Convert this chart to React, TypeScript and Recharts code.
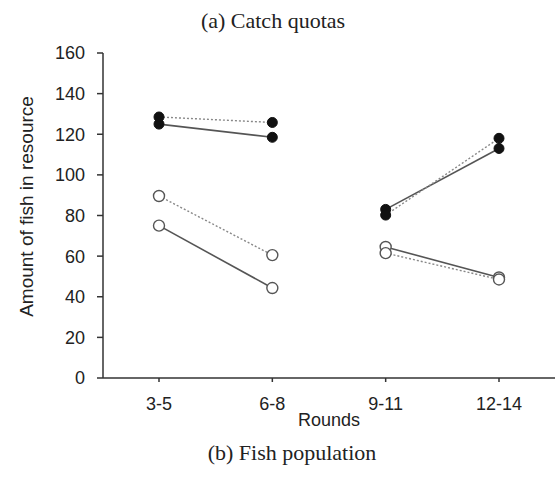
import { LineChart, Line, XAxis, YAxis } from "recharts";

// Rounds on the x axis; the chart is split into two pairs (3-5 → 6-8, 9-11 → 12-14)
const rounds = ["3-5", "6-8", "9-11", "12-14"];
const yTicks = [0, 20, 40, 60, 80, 100, 120, 140, 160];

// values, one per round
const filledSolid = [125, 118.5, 83, 113];
const filledDotted = [128.5, 125.8, 80.2, 118];
const openSolid = [75, 44.3, 64.5, 49.5];
const openDotted = [89.6, 60.5, 61.5, 48.5];

const seriesList = [
  { key: "fs", values: filledSolid, filled: true, dashed: false },
  { key: "fd", values: filledDotted, filled: true, dashed: true },
  { key: "os", values: openSolid, filled: false, dashed: false },
  { key: "od", values: openDotted, filled: false, dashed: true },
];

// each series is cut in two segments so the 6-8 → 9-11 gap stays open
const data = rounds.map((r, i) => {
  const row: Record<string, string | number | null> = { round: r };
  for (const s of seriesList) {
    row[s.key + "A"] = i < 2 ? s.values[i] : null;
    row[s.key + "B"] = i >= 2 ? s.values[i] : null;
  }
  return row;
});

const sans = "'Liberation Sans', Arial, sans-serif";
const serif = "'Liberation Serif', 'Times New Roman', serif";
const axisColor = "#333333";

export default function App() {
  return (
    <div style={{ position: "absolute", left: 0, top: 0, width: 560, height: 478, background: "#fff" }}>
      <div
        style={{
          position: "absolute", left: 153, width: 240, top: 8, textAlign: "center",
          fontFamily: serif, fontSize: 22, color: "#222",
        }}
      >
        (a) Catch quotas
      </div>
      <LineChart
        width={560}
        height={478}
        data={data}
        margin={{ top: 53, right: 5, bottom: 50, left: 0 }}
      >
        <XAxis
          dataKey="round"
          padding={{ left: 56, right: 56 }}
          tick={{ fill: "#222", fontSize: 18, fontFamily: sans }}
          tickSize={4}
          tickMargin={15}
          stroke={axisColor}
          strokeWidth={1.5}
          height={50}
          label={{
            value: "Rounds", position: "insideBottom", offset: 2,
            style: { fill: "#222", fontSize: 18, fontFamily: sans },
          }}
        />
        <YAxis
          domain={[0, 160]}
          ticks={yTicks}
          tick={{ fill: "#222", fontSize: 18, fontFamily: sans }}
          tickSize={6}
          tickMargin={12}
          stroke={axisColor}
          strokeWidth={1.5}
          width={103}
          label={{
            value: "Amount of fish in resource", angle: -90, position: "insideLeft",
            offset: 26, dy: -9,
            style: { textAnchor: "middle", fill: "#222", fontSize: 19, fontFamily: sans },
          }}
        />
        {seriesList.flatMap((s) =>
          ["A", "B"].map((seg) => (
            <Line
              key={s.key + seg}
              dataKey={s.key + seg}
              stroke={s.dashed ? "#888" : "#555"}
              strokeWidth={s.dashed ? 1.4 : 1.6}
              strokeDasharray={s.dashed ? "2 2" : undefined}
              dot={
                s.filled
                  ? { r: 5, fill: "#111", stroke: "#111", strokeWidth: 1, strokeDasharray: "0" }
                  : { r: 5.5, fill: "#fff", stroke: "#555", strokeWidth: 1.4, strokeDasharray: "0" }
              }
              activeDot={false}
              connectNulls={false}
              isAnimationActive={false}
            />
          ))
        )}
      </LineChart>
      <div
        style={{
          position: "absolute", left: 172, width: 240, top: 440, textAlign: "center",
          fontFamily: serif, fontSize: 22, color: "#222",
        }}
      >
        (b) Fish population
      </div>
    </div>
  );
}
